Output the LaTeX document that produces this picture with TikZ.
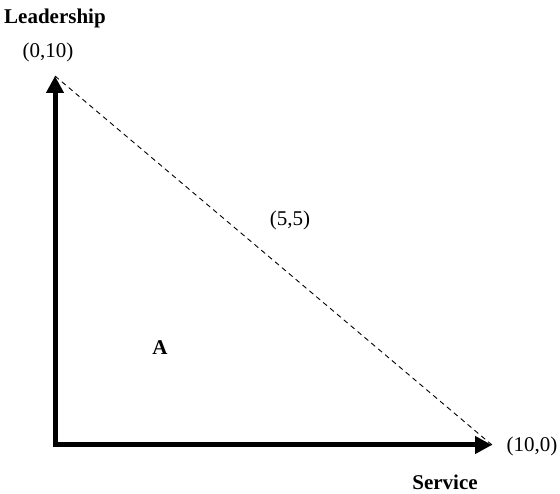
\documentclass[tikz,border=0pt]{standalone}
\usepackage{fontspec}
\setmainfont{Liberation Serif}
\usetikzlibrary{arrows.meta,positioning}

\begin{document}
\begin{tikzpicture}[x=1pt,y=1pt,>={Triangle[length=17pt,width=17pt]},
	Axis/.style={<->,black,line width=5pt,line join=miter},
	Diag/.style={-,black,dash pattern=on 5pt off 4pt,line width=0.9pt},
	Label/.style={font=\fontsize{21}{25}\selectfont,inner sep=0pt},
	BoldLabel/.style={font=\fontsize{21}{25}\selectfont\bfseries,inner sep=0pt},
]
	\useasboundingbox (0,0) rectangle (560,494);
	\coordinate (O) at (55,49);
	\coordinate (Y) at (55,418);
	\coordinate (X) at (492,49);

	\node[BoldLabel,anchor=base west] (lead) at (4,470){Leadership};
	\node[Label] (top) at (48,442){(0,10)};
	\node[Label] (mid) at (290,274){(5,5)};
	\node[BoldLabel,anchor=base] (A) at (160,139){A};
	\node[Label] (right) at (532,48){(10,0)};
	\node[BoldLabel,anchor=base] (serv) at (445,4){Service};

	\draw[Axis] (Y) -- (O) -- (X);
	\draw[Diag] (Y) -- (X);
\end{tikzpicture}
\end{document}
